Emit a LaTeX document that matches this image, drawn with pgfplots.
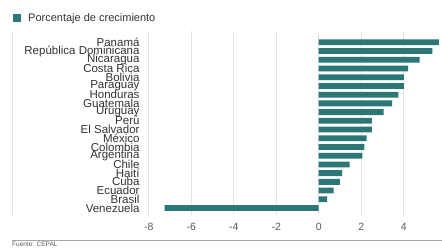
\documentclass[border=0pt]{standalone}
\usepackage{pgfplots}
\pgfplotsset{compat=1.18}
\usepackage{pgfplotstable}
\usepackage{fontspec}
\setmainfont{Liberation Sans}
\definecolor{barteal}{RGB}{44,118,117}
\definecolor{labgray}{RGB}{51,51,51}
\definecolor{tickgray}{RGB}{90,90,90}
\definecolor{gridgray}{RGB}{228,228,228}
\pgfplotstableread[col sep=comma]{
idx,val
0,-7.25
1,0.4
2,0.7
3,1.0
4,1.1
5,1.45
6,2.05
7,2.15
8,2.25
9,2.5
10,2.5
11,3.05
12,3.45
13,3.75
14,4.0
15,4.0
16,4.2
17,4.75
18,5.35
19,5.65
}\datatable
\begin{document}
\begin{tikzpicture}[x=1bp,y=1bp]
\useasboundingbox (0,0) rectangle (442,248);
\clip (0,0) rectangle (442,248);
\fill[white] (0,0) rectangle (442,248);
% faint left border of plot region
\draw[gridgray, line width=0.8bp] (12,248-31) -- (12,248-215);
\begin{axis}[
  at={(140.2bp,33bp)}, anchor=south west,
  scale only axis,
  width=301.8bp, height=184bp,
  xmin=-8.4, xmax=5.8,
  ymin=-0.8, ymax=20.3,
  axis line style={draw=none},
  xbar, bar width=5.8bp,
  xtick={-8,-6,-4,-2,0,2,4},
  ytick={0,...,19},
  yticklabels={Venezuela,Brasil,Ecuador,Cuba,Haití,Chile,Argentina,Colombia,México,El Salvador,Perú,Uruguay,Guatemala,Honduras,Paraguay,Bolivia,Costa Rica,Nicaragua,República Dominicana,Panamá},
  xmajorgrids, major grid style={gridgray, line width=0.8bp},
  major tick length=0pt,
  /pgf/number format/assume math mode=true,
  xticklabel style={font=\fontsize{10.5bp}{10.5bp}\selectfont, text=tickgray, yshift=-5bp},
  yticklabel style={font=\fontsize{11.5bp}{11.5bp}\selectfont, text=labgray, inner sep=0pt, xshift=-0.5bp},
  clip=false,
]
\addplot[draw=none, fill=barteal, bar shift=0pt] table[x=val, y=idx] {\datatable};
\end{axis}
% legend
\fill[barteal] (13,248-21.5) rectangle (20.5,248-14);
\node[anchor=base west, inner sep=0pt, text=labgray, font=\fontsize{11bp}{11bp}\selectfont] at (28,248-21) {Porcentaje de crecimiento};
% bottom rule and source
\draw[gray!70, line width=1.8bp] (12,248-240.5) -- (442,248-240.5);
\node[anchor=north west, inner sep=0pt, text=tickgray, font=\fontsize{6.5bp}{6.5bp}\selectfont] at (12,248-242.2) {Fuente: CEPAL};
\end{tikzpicture}
\end{document}
